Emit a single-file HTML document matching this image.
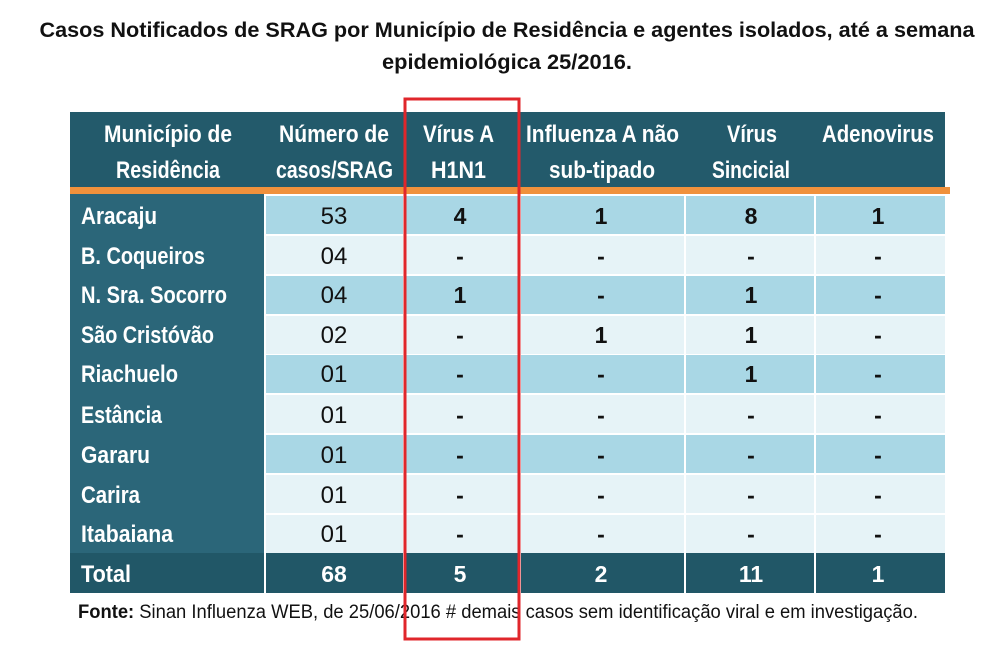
<!DOCTYPE html>
<html><head><meta charset="utf-8"><style>
html,body{margin:0;padding:0;background:#fff;}
svg{display:block;}
text{font-family:"Liberation Sans Narrow","Liberation Sans",sans-serif;}
</style></head><body>
<svg width="1000" height="664" viewBox="0 0 1000 664" xmlns="http://www.w3.org/2000/svg">
<rect width="1000" height="664" fill="#fff"/>
<text x="507" y="37" font-size="21" font-weight="bold" text-anchor="middle" textLength="935" lengthAdjust="spacingAndGlyphs" fill="#111">Casos Notificados de SRAG por Município de Residência e agentes isolados, até a semana</text>
<text x="507" y="69" font-size="21" font-weight="bold" text-anchor="middle" textLength="250" lengthAdjust="spacingAndGlyphs" fill="#111">epidemiológica 25/2016.</text>

<rect x="70" y="112" width="875" height="76" fill="#235a6b"/>
<rect x="70" y="187" width="880" height="7" fill="#f0913c"/>
<g fill="#fff" font-size="24" font-weight="bold" lengthAdjust="spacingAndGlyphs">
<text x="104" y="142" textLength="128" lengthAdjust="spacingAndGlyphs">Município de</text>
<text x="116" y="178" textLength="104" lengthAdjust="spacingAndGlyphs">Residência</text>
<text x="279" y="142" textLength="110" lengthAdjust="spacingAndGlyphs">Número de</text>
<text x="276" y="178" textLength="117" lengthAdjust="spacingAndGlyphs">casos/SRAG</text>
<text x="423" y="142" textLength="71" lengthAdjust="spacingAndGlyphs">Vírus A</text>
<text x="431" y="178" textLength="55" lengthAdjust="spacingAndGlyphs">H1N1</text>
<text x="526" y="142" textLength="153" lengthAdjust="spacingAndGlyphs">Influenza A não</text>
<text x="549" y="178" textLength="106" lengthAdjust="spacingAndGlyphs">sub-tipado</text>
<text x="727" y="142" textLength="50" lengthAdjust="spacingAndGlyphs">Vírus</text>
<text x="712" y="178" textLength="78" lengthAdjust="spacingAndGlyphs">Sincicial</text>
<text x="822" y="142" textLength="112" lengthAdjust="spacingAndGlyphs">Adenovirus</text>
</g>

<g>
<rect x="70" y="194" width="195" height="359" fill="#2b6679"/>
<rect x="265" y="196" width="680" height="38" fill="#a9d7e5"/>
<rect x="265" y="236" width="680" height="38" fill="#e6f3f7"/>
<rect x="265" y="276" width="680" height="38" fill="#a9d7e5"/>
<rect x="265" y="316" width="680" height="38" fill="#e6f3f7"/>
<rect x="265" y="355" width="680" height="38" fill="#a9d7e5"/>
<rect x="265" y="395" width="680" height="38" fill="#e6f3f7"/>
<rect x="265" y="435" width="680" height="38" fill="#a9d7e5"/>
<rect x="265" y="475" width="680" height="38" fill="#e6f3f7"/>
<rect x="265" y="515" width="680" height="38" fill="#e6f3f7"/>
<rect x="70" y="553" width="875" height="40" fill="#215767"/>
<g stroke="#fff" stroke-width="2">
<line x1="404" y1="194" x2="404" y2="593"/><line x1="520" y1="194" x2="520" y2="593"/>
<line x1="685" y1="194" x2="685" y2="593"/><line x1="815" y1="194" x2="815" y2="593"/>
<line x1="265" y1="194" x2="265" y2="593"/>
</g>
</g>

<g fill="#fff" font-size="24" font-weight="bold">
<text x="81" y="224" textLength="76" lengthAdjust="spacingAndGlyphs">Aracaju</text>
<text x="81" y="264" textLength="124" lengthAdjust="spacingAndGlyphs">B. Coqueiros</text>
<text x="81" y="303" textLength="146" lengthAdjust="spacingAndGlyphs">N. Sra. Socorro</text>
<text x="81" y="343" textLength="133" lengthAdjust="spacingAndGlyphs">São Cristóvão</text>
<text x="81" y="382" textLength="97" lengthAdjust="spacingAndGlyphs">Riachuelo</text>
<text x="81" y="423" textLength="81" lengthAdjust="spacingAndGlyphs">Estância</text>
<text x="81" y="463" textLength="69" lengthAdjust="spacingAndGlyphs">Gararu</text>
<text x="81" y="503" textLength="59" lengthAdjust="spacingAndGlyphs">Carira</text>
<text x="81" y="542" textLength="92" lengthAdjust="spacingAndGlyphs">Itabaiana</text>
<text x="81" y="582" textLength="50" lengthAdjust="spacingAndGlyphs">Total</text>
</g>
<g fill="#111" font-size="24" text-anchor="middle">
<text x="334" y="224">53</text><text x="334" y="264">04</text><text x="334" y="303">04</text>
<text x="334" y="343">02</text><text x="334" y="382">01</text><text x="334" y="423">01</text>
<text x="334" y="463">01</text><text x="334" y="503">01</text><text x="334" y="542">01</text>
</g>
<g fill="#111" font-size="23" font-weight="bold" text-anchor="middle">
<text x="460" y="224">4</text><text x="601" y="224">1</text><text x="751" y="224">8</text><text x="878" y="224">1</text>
<text x="460" y="264">-</text><text x="601" y="264">-</text><text x="751" y="264">-</text><text x="878" y="264">-</text>
<text x="460" y="303">1</text><text x="601" y="303">-</text><text x="751" y="303">1</text><text x="878" y="303">-</text>
<text x="460" y="343">-</text><text x="601" y="343">1</text><text x="751" y="343">1</text><text x="878" y="343">-</text>
<text x="460" y="382">-</text><text x="601" y="382">-</text><text x="751" y="382">1</text><text x="878" y="382">-</text>
<text x="460" y="423">-</text><text x="601" y="423">-</text><text x="751" y="423">-</text><text x="878" y="423">-</text>
<text x="460" y="463">-</text><text x="601" y="463">-</text><text x="751" y="463">-</text><text x="878" y="463">-</text>
<text x="460" y="503">-</text><text x="601" y="503">-</text><text x="751" y="503">-</text><text x="878" y="503">-</text>
<text x="460" y="542">-</text><text x="601" y="542">-</text><text x="751" y="542">-</text><text x="878" y="542">-</text>
</g>
<g fill="#fff" font-size="23" font-weight="bold" text-anchor="middle">
<text x="334" y="582">68</text><text x="460" y="582">5</text><text x="601" y="582">2</text><text x="751" y="582">11</text><text x="878" y="582">1</text>
</g>

<text x="78" y="618" font-size="19" fill="#111" textLength="840" lengthAdjust="spacingAndGlyphs"><tspan font-weight="bold">Fonte:</tspan> Sinan Influenza WEB, de 25/06/2016 # demais casos sem identificação viral e em investigação.</text>

<rect x="405" y="99" width="114" height="540" fill="none" stroke="#e0262b" stroke-width="3"/>
</svg>
</body></html>
